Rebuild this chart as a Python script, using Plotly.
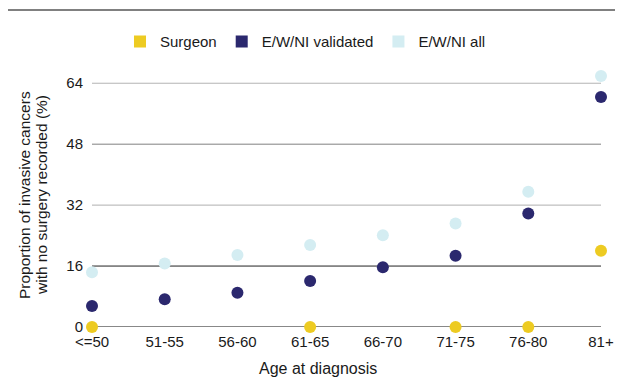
import plotly.graph_objects as go

categories = ["<=50", "51-55", "56-60", "61-65", "66-70", "71-75", "76-80", "81+"]
surgeon = [0, None, None, 0, None, 0, 0, 20.0]
ewni_validated = [5.5, 7.3, 9.0, 12.1, 15.7, 18.7, 29.8, 60.4]
ewni_all = [14.4, 16.7, 18.9, 21.5, 24.1, 27.2, 35.5, 65.9]
y_ticks = [0, 16, 32, 48, 64]
grid_colors = ["#111111", "#222222", "#b0b0b0", "#808080", "#b4b4b4"]

series = [
    ("Surgeon", surgeon, "#EDCB22"),
    ("E/W/NI validated", ewni_validated, "#2B286E"),
    ("E/W/NI all", ewni_all, "#D4EDF2"),
]

FONT = "Liberation Sans, Arial, Helvetica, sans-serif"
TXT = "#1a1a1a"

fig = go.Figure()
for name, vals, color in reversed(series):
    fig.add_trace(go.Scatter(
        x=categories, y=vals, mode="markers", name=name, showlegend=False,
        marker=dict(color=color, size=12, line=dict(width=0)),
        cliponaxis=False,
    ))
for name, vals, color in series:
    fig.add_trace(go.Scatter(
        x=[None], y=[None], mode="markers", name=name, showlegend=True,
        marker=dict(color=color, size=16, symbol="square", line=dict(width=0)),
    ))

shapes = [dict(type="line", xref="paper", yref="y", x0=0, x1=1, y0=v, y1=v,
               layer="below", line=dict(color=c, width=1))
          for v, c in zip(y_ticks, grid_colors)]
shapes.append(dict(type="line", xref="paper", yref="paper", x0=-0.167, x1=1.045,
                   y0=1.224, y1=1.224, line=dict(color="#808080", width=2)))

# the page body adds an 8px offset, so margins are shifted to compensate
fig.update_layout(
    width=623, height=381,
    margin=dict(l=84, r=30, t=60, b=62, autoexpand=False),
    paper_bgcolor="white", plot_bgcolor="white",
    font=dict(family=FONT, size=15, color=TXT),
    showlegend=True,
    legend=dict(orientation="h", x=0.055, xanchor="left", y=1.101, yanchor="middle",
                font=dict(family=FONT, size=15, color=TXT),
                itemsizing="constant", traceorder="normal",
                bgcolor="rgba(0,0,0,0)", borderwidth=0),
    xaxis=dict(type="category", range=[0, 7], showgrid=False, showline=False,
               zeroline=False, ticks="", tickfont=dict(size=15, color=TXT),
               ticklabelstandoff=4),
    yaxis=dict(range=[0, 68], tickvals=y_ticks, showgrid=False,
               zeroline=False, showline=False, ticks="",
               tickfont=dict(size=15, color=TXT), ticklabelstandoff=8),
    shapes=shapes,
    annotations=[
        dict(text="Age at diagnosis", xref="paper", yref="paper", x=0.444, y=-0.162,
             showarrow=False, xanchor="center", yanchor="middle",
             font=dict(family=FONT, size=16, color=TXT)),
        dict(text="Proportion of invasive cancers", xref="paper", yref="paper",
             x=-0.1316, y=0.5097, textangle=-90, showarrow=False,
             xanchor="center", yanchor="middle", font=dict(family=FONT, size=15.5, color=TXT)),
        dict(text="with no surgery recorded (%)", xref="paper", yref="paper",
             x=-0.0982, y=0.5097, textangle=-90, showarrow=False,
             xanchor="center", yanchor="middle", font=dict(family=FONT, size=15.5, color=TXT)),
    ],
)

fig.write_html("out.html")
